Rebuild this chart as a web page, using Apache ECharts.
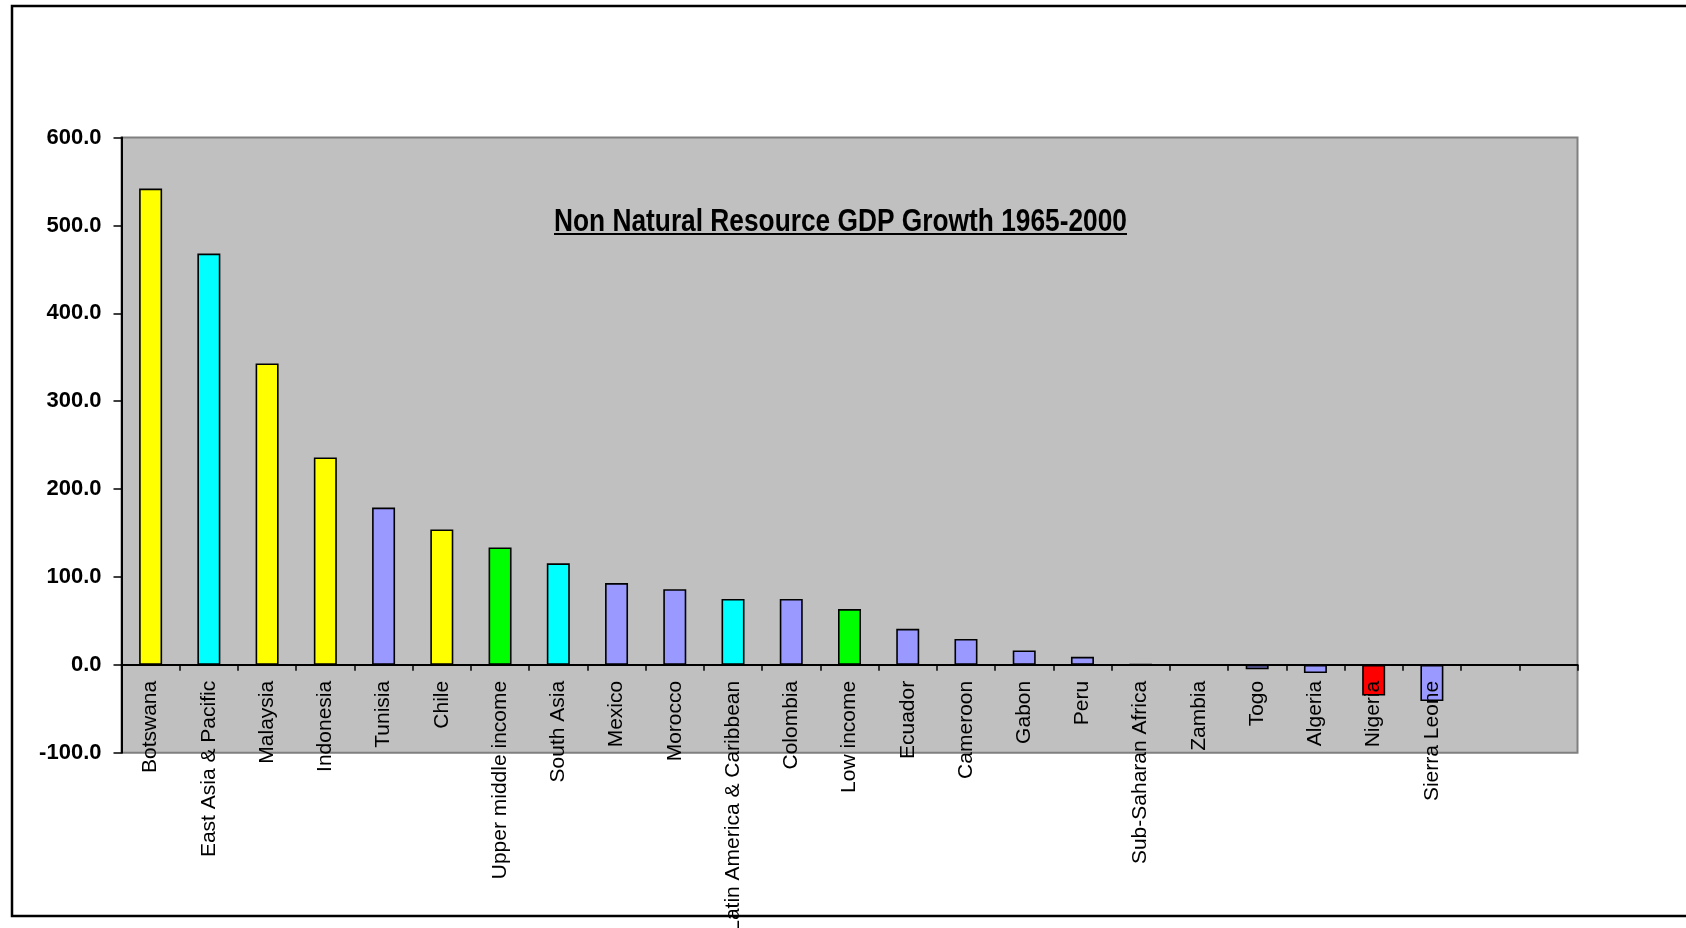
<!DOCTYPE html>
<html>
<head>
<meta charset="utf-8">
<title>Non Natural Resource GDP Growth 1965-2000</title>
<script src="https://cdn.jsdelivr.net/npm/echarts@6/dist/echarts.min.js"></script>
<style>
  html, body { margin: 0; padding: 0; background: #ffffff; }
  #chart { width: 1686px; height: 928px; }
</style>
</head>
<body>
<div id="chart"></div>
<script>
// Categories (countries, regions and income groups), in chart order
const categories = [
  'Botswana', 'East Asia & Pacific', 'Malaysia', 'Indonesia', 'Tunisia', 'Chile',
  'Upper middle income', 'South Asia', 'Mexico', 'Morocco', 'Latin America & Caribbean',
  'Colombia', 'Low income', 'Ecuador', 'Cameroon', 'Gabon', 'Peru', 'Sub-Saharan Africa',
  'Zambia', 'Togo', 'Algeria', 'Nigeria', 'Sierra Leone'
];

// Non natural resource GDP growth 1965-2000, percent
const growth = [
  542, 468, 343, 236, 179, 154,
  133.5, 115.5, 93, 86, 75,
  75, 63.5, 41, 29.5, 16.3, 9.1, 0.4,
  0.3, -4.9, -9.4, -35, -41.2
];

// Group of each category (decides the bar colour)
const groups = [
  'mineral', 'region', 'mineral', 'mineral', 'country', 'mineral',
  'income', 'region', 'country', 'country', 'region',
  'country', 'income', 'country', 'country', 'country', 'country', 'region',
  'country', 'country', 'country', 'oil', 'country'
];

// Two unused category slots at the right end of the axis
const emptySlots = ['', ''];

// Value axis range and step
const yMin = -100;
const yMax = 600;
const yStep = 100;

const chartTitle = 'Non Natural Resource GDP Growth 1965-2000';

// ---- styling ----
const groupColors = {
  mineral: '#FFFF00',
  region:  '#00FFFF',
  country: '#9999FF',
  income:  '#00FF00',
  oil:     '#FF0000'
};

// Condensed title: a bold sans face squeezed horizontally to a fixed width
const titleFont = 'bold 31px "Liberation Sans", Arial, sans-serif';
const titleX = 840.5;
const titleY = 222;
const titleTargetWidth = 573;

function measure(text, font) {
  const ctx = document.createElement('canvas').getContext('2d');
  ctx.font = font;
  return ctx.measureText(text).width;
}
const titleScaleX = titleTargetWidth / measure(chartTitle, titleFont);

const gridLeft = 121.5;
const gridTop = 137.6;
const gridRight = 108.5;
const gridBottom = 175.3;
const chartHeight = 928;

// Category labels sit just under the zero line, not under the plot bottom
const zeroY = gridTop + (chartHeight - gridTop - gridBottom) * (yMax / (yMax - yMin));
const plotBottomY = chartHeight - gridBottom;
const labelGapBelowZero = 16;

const chart = echarts.init(document.getElementById('chart'), null, { renderer: 'canvas' });

const option = {
  backgroundColor: '#ffffff',
  animation: false,
  grid: {
    left: gridLeft,
    top: gridTop,
    right: gridRight,
    bottom: gridBottom,
    containLabel: false,
    outerBoundsMode: 'none',
    show: true,
    backgroundColor: '#C0C0C0',
    borderColor: '#808080',
    borderWidth: 2
  },
  xAxis: {
    type: 'category',
    data: categories.concat(emptySlots),
    boundaryGap: true,
    z: 5,
    axisLine: { onZero: true, lineStyle: { color: '#000000', width: 2 } },
    axisTick: { show: true, interval: 0, inside: false, length: 6, alignWithLabel: false,
                lineStyle: { color: '#000000', width: 1.5 } },
    axisLabel: {
      interval: 0,
      rotate: 90,
      margin: (zeroY + labelGapBelowZero) - plotBottomY,
      color: '#000000',
      fontFamily: '"Liberation Sans", Arial, sans-serif',
      fontSize: 21,
      fontWeight: 'normal'
    },
    splitLine: { show: false }
  },
  yAxis: {
    type: 'value',
    min: yMin,
    max: yMax,
    interval: yStep,
    axisLine: { show: true, onZero: false, lineStyle: { color: '#000000', width: 2 } },
    axisTick: { show: true, inside: false, length: 8, lineStyle: { color: '#000000', width: 1.5 } },
    axisLabel: {
      margin: 20,
      color: '#000000',
      fontFamily: '"Liberation Sans", Arial, sans-serif',
      fontSize: 22,
      fontWeight: 'bold',
      formatter: function (v) { return v.toFixed(1); }
    },
    splitLine: { show: false }
  },
  series: [{
    type: 'bar',
    barWidth: 23,
    z: 2,
    data: growth.map(function (v, i) {
      return {
        value: v,
        itemStyle: {
          color: groupColors[groups[i]],
          borderColor: '#000000',
          borderWidth: 1.6
        }
      };
    })
  }],
  graphic: [
    {
      // outer chart frame
      type: 'rect',
      silent: true,
      z: 100,
      shape: { x: 12, y: 6, width: 1720, height: 910 },
      style: { fill: null, stroke: '#000000', lineWidth: 2.5 }
    },
    {
      type: 'text',
      silent: true,
      z: 100,
      x: titleX,
      y: titleY,
      scaleX: titleScaleX,
      style: {
        text: chartTitle,
        font: titleFont,
        fill: '#000000',
        align: 'center',
        verticalAlign: 'middle'
      }
    },
    {
      // title underline
      type: 'line',
      silent: true,
      z: 100,
      shape: {
        x1: titleX - titleTargetWidth / 2, y1: 234,
        x2: titleX + titleTargetWidth / 2, y2: 234
      },
      style: { stroke: '#000000', lineWidth: 2.2 }
    }
  ]
};

chart.setOption(option);
</script>
</body>
</html>
